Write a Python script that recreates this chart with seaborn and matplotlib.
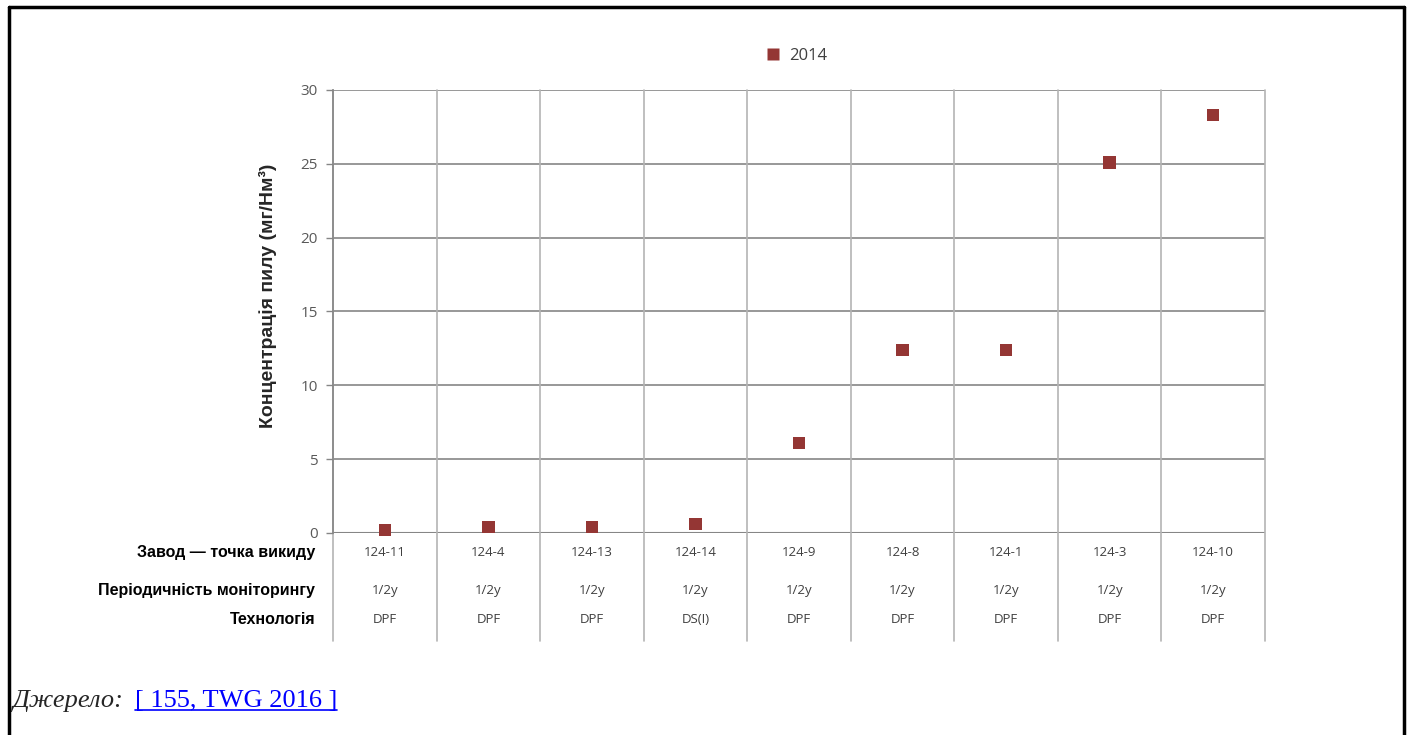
import matplotlib
matplotlib.use("Agg")
import matplotlib.pyplot as plt
import matplotlib.transforms as mtransforms
import seaborn as sns
import pandas as pd

points = ["124-11", "124-4", "124-13", "124-14", "124-9", "124-8", "124-1", "124-3", "124-10"]
values_2014 = [0.2, 0.4, 0.4, 0.6, 6.1, 12.4, 12.4, 25.1, 28.3]
periodicity = ["1/2y"] * 9
technology = ["DPF", "DPF", "DPF", "DS(I)", "DPF", "DPF", "DPF", "DPF", "DPF"]
row_labels = ["Завод — точка викиду", "Періодичність моніторингу", "Технологія"]
y_ticks = [0, 5, 10, 15, 20, 25, 30]
series_name = "2014"

sns.set_theme(style="white")
plt.rcParams['font.family'] = ['Liberation Sans', 'DejaVu Sans']

fig = plt.figure(figsize=(14.07, 7.35), dpi=100)
ax = fig.add_axes([333/1407, 1-533/735, (1265-333)/1407, (533-90)/735])

df = pd.DataFrame({"pos": range(len(points)), "value": values_2014, "series": series_name})
sns.scatterplot(data=df, x="pos", y="value", hue="series", palette=["#943634"],
                marker="s", s=80, edgecolor="none", ax=ax, legend=True, zorder=3)
for coll in ax.collections:
    coll.set_clip_on(False)

ax.set_xlim(-0.5, len(points) - 0.5)
ax.set_ylim(0, 30)
ax.set_yticks(y_ticks)
ax.set_yticklabels([str(t) for t in y_ticks], fontsize=11, color="#595959",
                   family=["Open Sans", "DejaVu Sans"])
ax.tick_params(axis="y", length=5, width=1, color="#868686", left=True, pad=6)
ax.set_xticks([])
ax.set_xlabel("")
ax.set_ylabel("Концентрація пилу (мг/Нм³)", fontsize=14, fontweight="bold")
ax.yaxis.set_label_coords(-0.060, 0.535)

for t in y_ticks[1:]:
    ax.axhline(t, color="#868686", lw=1.2, zorder=0)
ax.axhline(0, color="#868686", lw=1.5, zorder=0)

for sp in ["top", "right", "bottom"]:
    ax.spines[sp].set_visible(False)
ax.spines["left"].set_color("#868686")
ax.spines["left"].set_linewidth(1.2)

for i in range(len(points) + 1):
    ax.axvline(i - 0.5, ymin=-0.243, ymax=1, color="#b4b4b4",
               lw=1.2, clip_on=False, zorder=0)

trans = mtransforms.blended_transform_factory(ax.transData, ax.transAxes)
row_y = [-0.043, -0.129, -0.196]
rows = [points, periodicity, technology]
for r, vals in enumerate(rows):
    for i, v in enumerate(vals):
        ax.text(i, row_y[r], v, transform=trans, ha="center", va="center",
                fontsize=9.5, color="#404040", family=["Open Sans", "DejaVu Sans"])
    ax.text(315/1407, 1 - (533 + (-row_y[r]) * 443)/735, row_labels[r],
            transform=fig.transFigure, ha="right", va="center",
            fontsize=11.5, fontweight="bold", color="black")

leg = ax.legend(loc="center", bbox_to_anchor=(792/1407, 1-56/735), bbox_transform=fig.transFigure,
                frameon=False, fontsize=12, handletextpad=0.0, markerscale=0.9)
for txt in leg.get_texts():
    txt.set_color("#404040")
    txt.set_family(["Open Sans", "DejaVu Sans"])

# outer border (left, top, right)
fig.add_artist(plt.Line2D([9/1407, 9/1407], [0, 1-7/735], transform=fig.transFigure, color="black", lw=2.5))
fig.add_artist(plt.Line2D([9/1407, 1404/1407], [1-7/735, 1-7/735], transform=fig.transFigure, color="black", lw=2.5))
fig.add_artist(plt.Line2D([1404/1407, 1404/1407], [0, 1-7/735], transform=fig.transFigure, color="black", lw=2.5))

base_y = 1 - 707/735
fig.text(12/1407, base_y, "Джерело:", fontsize=19, style="italic",
         family=["Liberation Serif", "DejaVu Serif"], ha="left", va="baseline")
link = fig.text(135/1407, base_y, "[ 155, TWG 2016 ]", fontsize=19, color="#0000FF",
                family=["Liberation Serif", "DejaVu Serif"], ha="left", va="baseline")
fig.canvas.draw()
bb = link.get_window_extent().transformed(fig.transFigure.inverted())
fig.add_artist(plt.Line2D([bb.x0, bb.x1], [base_y - 3/735, base_y - 3/735], transform=fig.transFigure,
                          color="#0000FF", lw=1.2))

fig.savefig("out.png", dpi=100)
